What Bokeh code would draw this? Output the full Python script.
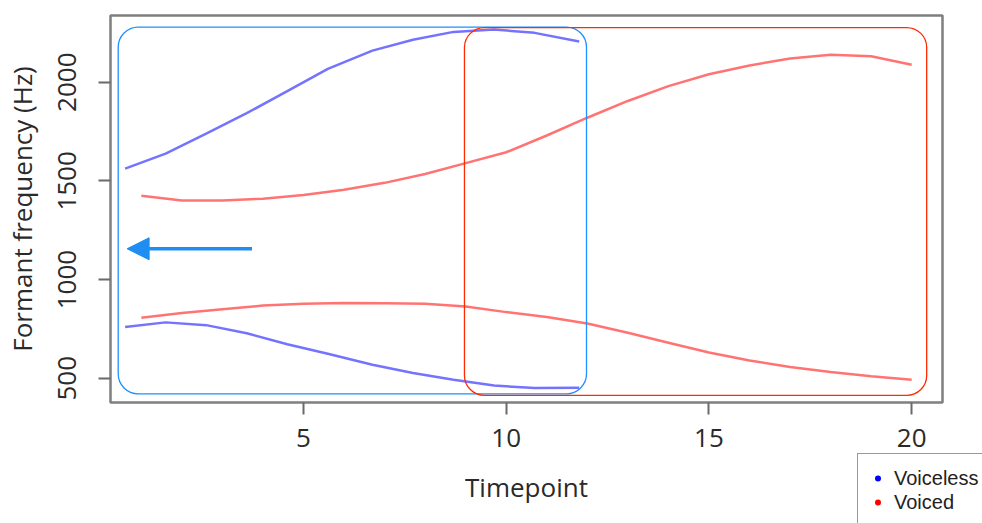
from bokeh.plotting import figure
from bokeh.models import (Range1d, FixedTicker, BoxAnnotation, Arrow, NormalHead,
                          Legend, LegendItem)
from bokeh.embed import file_html
from bokeh.resources import INLINE

# ---- data ----
timepoint_voiced = list(range(1, 21))
f2_voiced = [1425, 1400, 1400, 1410, 1428, 1455, 1490, 1535, 1590, 1645,
             1730, 1820, 1905, 1980, 2040, 2085, 2120, 2139, 2132, 2088]
f1_voiced = [806, 830, 850, 868, 877, 881, 880, 877, 864, 835,
             810, 777, 730, 680, 630, 590, 557, 532, 510, 492]

timepoint_voiceless = [0.6, 1.6, 2.6, 3.6, 4.6, 5.6, 6.7, 7.7, 8.7, 9.7, 10.7, 11.8]
f2_voiceless = [1562, 1638, 1740, 1843, 1955, 2068, 2160, 2215, 2255, 2267, 2250, 2206]
f1_voiceless = [759, 783, 769, 728, 672, 624, 568, 526, 492, 463, 450, 452]

x_ticks = [5, 10, 15, 20]
y_ticks = [500, 1000, 1500, 2000]
legend_labels = ["Voiceless", "Voiced"]
x_label = "Timepoint"
y_label = "Formant frequency (Hz)"

FONT = "Open Sans"

p = figure(frame_width=832, frame_height=387, output_backend="svg", toolbar_location=None,
           x_range=Range1d(0.24, 20.76), y_range=Range1d(377, 2338),
           min_border_left=110, min_border_right=0, min_border_top=15,
           min_border_bottom=121)

p.background_fill_color = "white"
p.border_fill_color = "white"
p.outline_line_color = "#7f7f7f"
p.outline_line_width = 2.5
p.grid.visible = False

p.xaxis.ticker = FixedTicker(ticks=x_ticks)
p.yaxis.ticker = FixedTicker(ticks=y_ticks)
p.yaxis.major_label_orientation = "vertical"
p.xaxis.axis_label = x_label
p.yaxis.axis_label = y_label

for ax in (p.xaxis, p.yaxis):
    ax.axis_line_color = None
    ax.major_tick_in = 0
    ax.major_tick_out = 12
    ax.minor_tick_in = 0
    ax.minor_tick_out = 0
    ax.major_tick_line_color = "#6a6a6a"
    ax.major_tick_line_width = 2
    ax.major_label_text_font = FONT
    ax.major_label_text_font_size = "26px"
    ax.major_label_text_color = "#2a2a2a"
    ax.axis_label_text_font = FONT
    ax.axis_label_text_font_size = "26px"
    ax.axis_label_text_font_style = "normal"
    ax.axis_label_text_color = "#2a2a2a"

p.xaxis.major_label_standoff = 14
p.xaxis.axis_label_standoff = 19
p.yaxis.major_label_standoff = 22
p.yaxis.axis_label_standoff = 16

# curves
p.line(timepoint_voiceless, f2_voiceless, line_color="blue", line_alpha=0.55, line_width=2.5)
p.line(timepoint_voiceless, f1_voiceless, line_color="blue", line_alpha=0.55, line_width=2.5)
p.line(timepoint_voiced, f2_voiced, line_color="red", line_alpha=0.55, line_width=2.5)
p.line(timepoint_voiced, f1_voiced, line_color="red", line_alpha=0.55, line_width=2.5)

# rounded highlight boxes
p.add_layout(BoxAnnotation(left=0.43, right=11.98, top=2279, bottom=421,
                           fill_color=None, fill_alpha=0, line_color="#1e90ff",
                           line_alpha=1, line_width=1.3, border_radius=20))
p.add_layout(BoxAnnotation(left=8.97, right=20.37, top=2277, bottom=413,
                           fill_color=None, fill_alpha=0, line_color="#ff2a00",
                           line_alpha=1, line_width=1.3, border_radius=20))

# arrow
p.add_layout(Arrow(x_start=3.73, y_start=1156, x_end=0.65, y_end=1156,
                   line_color="#1e8ef2", line_width=3.5,
                   end=NormalHead(size=22, fill_color="#1e8ef2", line_color="#1e8ef2")))

# legend markers: size-0 (invisible) scatter on the series, used only for the legend dots
r_vl = p.scatter(x=timepoint_voiceless, y=f2_voiceless, marker="circle", size=0,
                 fill_color="blue", line_color="blue", line_alpha=0)
r_vd = p.scatter(x=timepoint_voiced, y=f2_voiced, marker="circle", size=0,
                 fill_color="red", line_color="red", line_alpha=0)
legend = Legend(items=[LegendItem(label=legend_labels[0], renderers=[r_vl]),
                       LegendItem(label=legend_labels[1], renderers=[r_vd])],
                location=(-85, -125), padding=12, spacing=0,
                glyph_width=15, glyph_height=24, label_height=24,
                label_standoff=9, margin=0,
                label_text_font="Liberation Sans", label_text_font_size="20px",
                label_text_color="#222222",
                border_line_color="#333333", border_line_width=1.5,
                background_fill_color="white", background_fill_alpha=1)
p.add_layout(legend, "right")

open("out.html", "w").write(file_html(p, INLINE))
